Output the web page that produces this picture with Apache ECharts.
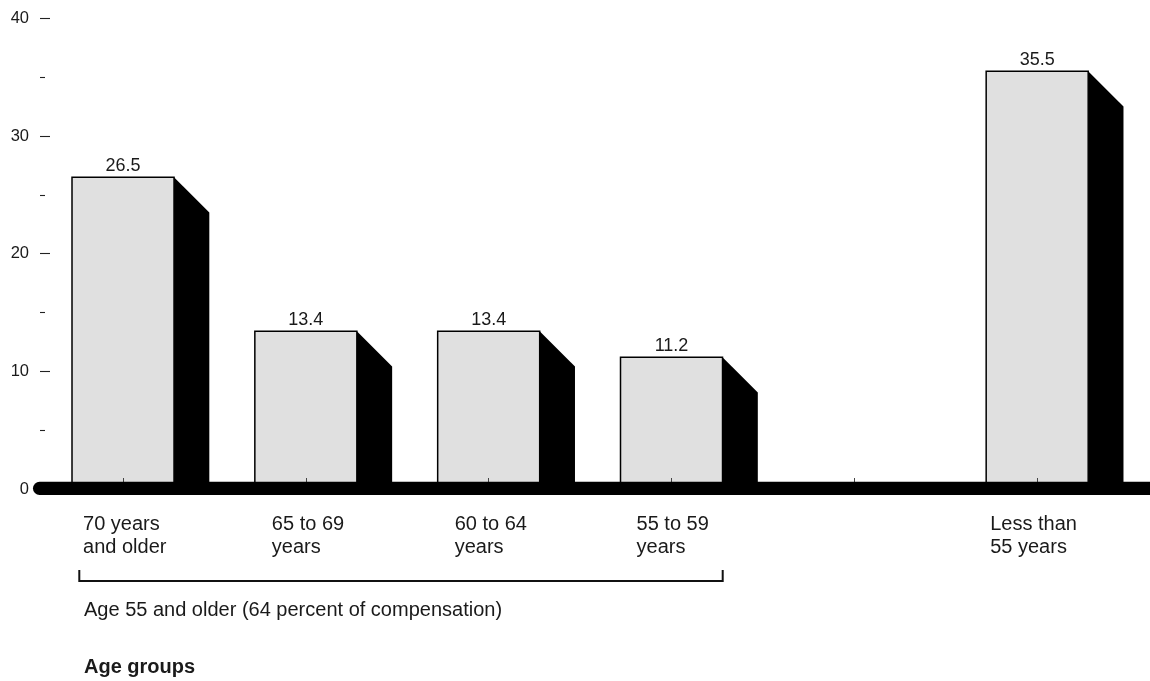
<!DOCTYPE html>
<html>
<head>
<meta charset="utf-8">
<title>Compensation by age group</title>
<script src="https://cdn.jsdelivr.net/npm/echarts@6/dist/echarts.min.js"></script>
<style>
  html, body { margin: 0; padding: 0; background: #fff; }
  #chart { width: 1150px; height: 681px; }
</style>
</head>
<body>
<div id="chart"></div>
<script>
// Age groups along the x axis (the fifth slot is an empty spacer)
const categories = [
  '70 years\nand older',
  '65 to 69\nyears',
  '60 to 64\nyears',
  '55 to 59\nyears',
  '',
  'Less than\n55 years'
];
// Percent of compensation in each group
const values = [26.5, 13.4, 13.4, 11.2, null, 35.5];
// Value axis ticks
const yTicks = [0, 10, 20, 30, 40];

const FONT = '"Liberation Sans", Arial, Helvetica, sans-serif';
const TEXT = '#1a1a1a';

// Width of each label's box; labels are left-aligned inside it, so the
// box width sets how far left of the tick a label starts.
const labelBoxWidth = [80, 68, 68, 70, 10, 94];
const rich = {};
labelBoxWidth.forEach((w, i) => {
  rich['c' + i] = {
    width: w, align: 'left', fontSize: 20, lineHeight: 23.3,
    fontFamily: FONT, color: TEXT
  };
});

const chart = echarts.init(document.getElementById('chart'));

function renderBar(params, api) {
  const v = api.value(1);
  if (v == null || isNaN(v)) return null;
  const top = api.coord([api.value(0), v]);
  const base = api.coord([api.value(0), 0]);
  const band = api.size([1, 0])[0];
  const w = band * 0.558;
  const d = band * 0.193;
  const x0 = top[0] - w / 2;
  const x1 = top[0] + w / 2;
  return {
    type: 'group',
    children: [
      {
        type: 'polygon',
        shape: { points: [[x1, top[1]], [x1 + d, top[1] + d], [x1 + d, base[1]], [x1, base[1]]] },
        style: { fill: '#000' }
      },
      {
        type: 'rect',
        shape: { x: x0, y: top[1], width: w, height: base[1] - top[1] },
        style: { fill: '#e0e0e0', stroke: '#000', lineWidth: 1.5 }
      },
      {
        type: 'text',
        x: top[0],
        y: top[1] - 11.5,
        style: {
          text: v.toFixed(1), fontSize: 18, fontFamily: FONT, fill: TEXT,
          align: 'center', verticalAlign: 'middle'
        }
      }
    ]
  };
}

chart.setOption({
  animation: false,
  backgroundColor: '#fff',
  grid: { left: 31.6, right: 21.4, top: 18.3, bottom: 192 },
  xAxis: {
    type: 'category',
    data: categories,
    z: 5,
    axisLine: { show: false },
    axisTick: {
      show: true, inside: true, length: 11, alignWithLabel: true, interval: 0,
      lineStyle: { color: '#444', width: 1 }
    },
    axisLabel: {
      interval: 0,
      margin: 24,
      formatter: (val, idx) => val ? val.split('\n').map(s => '{c' + idx + '|' + s + '}').join('\n') : '',
      rich: rich
    }
  },
  yAxis: {
    type: 'value',
    min: yTicks[0],
    max: yTicks[yTicks.length - 1],
    interval: 10,
    offset: -8.4,
    axisLine: { show: false },
    splitLine: { show: false },
    axisTick: { show: true, inside: true, length: 10, lineStyle: { color: '#222', width: 1.1 } },
    minorTick: { show: true, splitNumber: 2, length: 5, lineStyle: { color: '#222', width: 1.1 } },
    axisLabel: {
      margin: 11, fontSize: 16.5, fontFamily: FONT, color: TEXT,
      customValues: yTicks
    }
  },
  series: [{
    type: 'custom',
    renderItem: renderBar,
    encode: { x: 0, y: 1 },
    data: values.map((v, i) => [i, v]),
    z: 2
  }]
});

// Heavy baseline, bracket and captions under the plot
const y0 = chart.convertToPixel({ yAxisIndex: 0 }, 0);
chart.setOption({
  graphic: [
    {
      type: 'line', z: 10,
      shape: { x1: 39.6, y1: y0 - 0.6, x2: 1170, y2: y0 - 0.6 },
      style: { stroke: '#000', lineWidth: 13.3, lineCap: 'round' }
    },
    {
      type: 'polyline', z: 10,
      shape: { points: [[79.3, 570], [79.3, 581], [722.7, 581], [722.7, 570]] },
      style: { stroke: '#111', lineWidth: 2, fill: null }
    },
    {
      type: 'text', z: 10, x: 84, y: 610,
      style: {
        text: 'Age 55 and older (64 percent of compensation)',
        fontSize: 20, fontFamily: FONT, fill: TEXT, verticalAlign: 'middle'
      }
    },
    {
      type: 'text', z: 10, x: 84, y: 667.3,
      style: {
        text: 'Age groups', fontSize: 20, fontWeight: 'bold',
        fontFamily: FONT, fill: TEXT, verticalAlign: 'middle'
      }
    }
  ]
});
</script>
</body>
</html>
